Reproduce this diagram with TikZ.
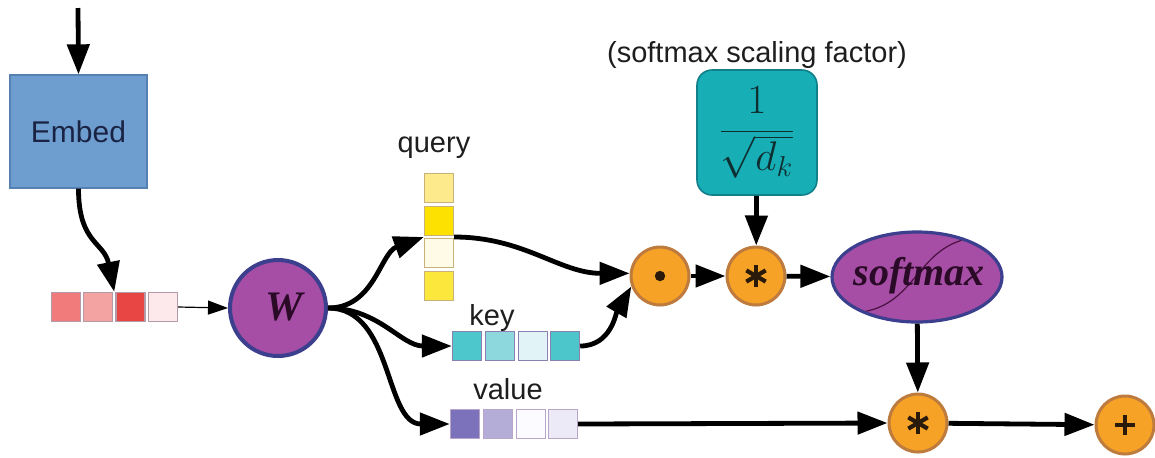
\documentclass[tikz,border=0pt]{standalone}
\usepackage{fontspec}
\setmainfont{Liberation Sans}
\newfontfamily\serifbi{Liberation Serif}
\usetikzlibrary{arrows.meta,shapes.geometric,calc}

\definecolor{embedfill}{HTML}{6D9ECF}
\definecolor{embededge}{HTML}{5580B2}
\definecolor{embedtxt}{HTML}{1A2344}
\definecolor{txt}{HTML}{1E1E1E}
\definecolor{r1}{HTML}{F07B7A}
\definecolor{r2}{HTML}{F4A3A3}
\definecolor{r3}{HTML}{E84545}
\definecolor{r4}{HTML}{FDE9EC}
\definecolor{redge}{HTML}{B29AA8}
\definecolor{q1}{HTML}{FDEA8C}
\definecolor{q2}{HTML}{FDE100}
\definecolor{q3}{HTML}{FFFBE6}
\definecolor{q4}{HTML}{FCE83C}
\definecolor{qedge}{HTML}{C9B279}
\definecolor{k1}{HTML}{4EC7CC}
\definecolor{k2}{HTML}{8DD8DC}
\definecolor{k3}{HTML}{E1F3F6}
\definecolor{k4}{HTML}{4CC5CB}
\definecolor{kedge}{HTML}{8C80B2}
\definecolor{v1}{HTML}{7B72BB}
\definecolor{v2}{HTML}{B4ADD8}
\definecolor{v3}{HTML}{FCFBFF}
\definecolor{v4}{HTML}{ECEAF6}
\definecolor{vedge}{HTML}{B9A5C9}
\definecolor{wfill}{HTML}{A64EA5}
\definecolor{wedge}{HTML}{3B3F8E}
\definecolor{wtxt}{HTML}{2A0A26}
\definecolor{opfill}{HTML}{F6A226}
\definecolor{opedge}{HTML}{BE7B3E}
\definecolor{glyphcol}{HTML}{2A1A0A}
\definecolor{tealfill}{HTML}{17AEB6}
\definecolor{tealedge}{HTML}{12808A}
\definecolor{tealtxt}{HTML}{0F2E30}
\definecolor{sigcol}{HTML}{4B1042}

\begin{document}
\begin{tikzpicture}[x=0.5pt,y=-0.5pt,
  wire/.style={line width=2.4pt, -{Triangle[length=15pt,width=11pt]}},
  thinwire/.style={line width=0.6pt, -{Triangle[length=10pt,width=7pt]}},
  cellbox/.style={draw=#1, line width=0.7pt, minimum size=14.5pt, inner sep=0pt},
  opnode/.style={circle, fill=opfill, draw=opedge, line width=1.5pt, minimum size=29pt, inner sep=0pt},
  glyph/.style={draw=glyphcol, line width=2.1pt},
  lbl/.style={font=\fontsize{14.5}{17}\selectfont, text=txt, anchor=base, inner sep=0pt},
]
\useasboundingbox (0,0) rectangle (1155,457);
\fill[white] (0,0) rectangle (1155,457);

% input and embedding
\coordinate (in) at (78,8);
\node[draw=embededge, fill=embedfill, line width=0.7pt, minimum width=68.5pt, minimum height=56.5pt,
      font=\fontsize{15}{17}\selectfont, text=embedtxt] (embed) at (78.5,131.5) {Embed};

% embedded token vector
\node[cellbox=redge, fill=r1] (ra) at (66,307) {};
\node[cellbox=redge, fill=r2] (rb) at (98,307) {};
\node[cellbox=redge, fill=r3] (rc) at (130.5,307) {};
\node[cellbox=redge, fill=r4] (rd) at (163,307) {};
\coordinate (rtop) at ($(rb.north east)!.5!(rc.north west)$);

% projection
\node[circle, fill=wfill, draw=wedge, line width=2pt, minimum size=48pt, inner sep=0pt] (W) at (278,308) {};
\node[font=\serifbi\bfseries\itshape\fontsize{21}{24}\selectfont, text=wtxt, inner sep=0pt] (Wtxt) at (284,307) {W};

% query
\node[lbl] (qlbl) at (434,152) {query};
\node[cellbox=qedge, fill=q1] (qa) at (439,188) {};
\node[cellbox=qedge, fill=q2] (qb) at (439,221) {};
\node[cellbox=qedge, fill=q3] (qc) at (439,253) {};
\node[cellbox=qedge, fill=q4] (qd) at (439,286) {};
\coordinate (qin) at ($(qb.south west)!.5!(qc.north west)$);
\coordinate (qout) at ($(qb.south east)!.5!(qc.north east)$);

% key
\node[lbl] (klbl) at (492,325) {key};
\node[cellbox=kedge, fill=k1] (ka) at (467,346) {};
\node[cellbox=kedge, fill=k2] (kb) at (500,346) {};
\node[cellbox=kedge, fill=k3] (kc) at (533,346) {};
\node[cellbox=kedge, fill=k4] (kd) at (565,346) {};

% value
\node[lbl] (vlbl) at (508,399) {value};
\node[cellbox=vedge, fill=v1] (va) at (465,424) {};
\node[cellbox=vedge, fill=v2] (vb) at (498,424) {};
\node[cellbox=vedge, fill=v3] (vc) at (531,424) {};
\node[cellbox=vedge, fill=v4] (vd) at (563,424) {};

% attention operations
\node[opnode] (dot) at (660,276) {};
\node[opnode] (s1) at (756,276) {};
\node[opnode] (s2) at (918,423) {};
\node[opnode] (plus) at (1125,425) {};

% scaling factor
\node[lbl] (sclbl) at (757,62) {(softmax scaling factor)};
\node[rounded corners=7.5pt, fill=tealfill, draw=tealedge, line width=0.8pt,
      minimum width=60pt, minimum height=62.5pt, text=tealtxt,
      font=\fontsize{20}{22}\selectfont] (scale) at (757,132.5) {$\displaystyle\frac{1}{\sqrt{d_k}}$};

% softmax
\node[ellipse, fill=wfill, draw=wedge, line width=1.6pt, minimum width=85pt, minimum height=45pt, inner sep=0pt] (sm) at (917,277) {};
\begin{scope}
  \clip (sm.center) ellipse [x radius=41.6pt, y radius=21.6pt];
  \draw[sigcol, line width=0.6pt] ([xshift=-33pt,yshift=-18pt]sm.center)
    .. controls ([xshift=2pt,yshift=-17pt]sm.center) and ([xshift=-2pt,yshift=19pt]sm.center)
    .. ([xshift=33pt,yshift=20pt]sm.center);
\end{scope}
\node[font=\serifbi\bfseries\itshape\fontsize{20}{23}\selectfont, text=wtxt, inner sep=0pt] (smtxt) at (919,276) {softmax};

% operator glyphs
\fill[glyphcol] (dot) circle (2.6pt);
\foreach \n in {s1,s2}
  \foreach \a in {90,30,150}
    \draw[glyph] ($(\n)+(\a:5.6pt)$) -- ($(\n)+(\a+180:5.6pt)$);
\draw[glyph] ($(plus)+(-5pt,0pt)$) -- ($(plus)+(5pt,0pt)$);
\draw[glyph] ($(plus)+(0pt,-5pt)$) -- ($(plus)+(0pt,5pt)$);

% connectors
\draw[wire] (in) -- (embed.north);
\draw[wire] (embed.south) .. controls +(0,55) and +(-10,-50) .. (rtop);
\draw[thinwire] (rd.east) -- (W.west);
\draw[wire] (W.east) to[out=0,in=200] (qin);
\draw[wire] (W.east) to[out=0,in=180] (ka.west);
\draw[wire] (W.east) to[out=0,in=180] (va.west);
\draw[wire] (qout) to[out=0,in=180] (dot.175);
\draw[wire] (kd.east) to[out=0,in=240] (dot.200);
\draw[wire] (dot) -- (s1);
\draw[wire] (scale) -- (s1);
\draw[wire] (s1) -- (sm);
\draw[wire] (sm) -- (s2);
\draw[wire] (vd.east) -- (s2.west);
\draw[wire] (s2) -- (plus);
\end{tikzpicture}
\end{document}
